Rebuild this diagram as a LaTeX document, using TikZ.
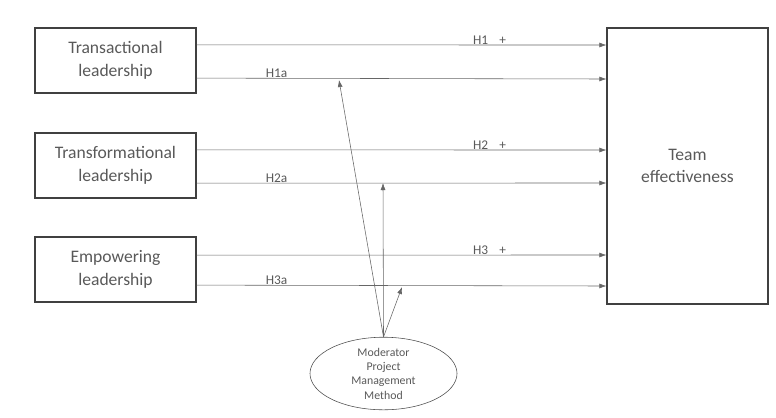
\documentclass[tikz,border=0pt]{standalone}
\usepackage{fontspec}
\setmainfont{Carlito}
\usetikzlibrary{arrows.meta,shapes.geometric}

\begin{document}
\begin{tikzpicture}[x=0.025cm, y=-0.025cm,
	every node/.style={text=black!65, align=center},
	lead/.style={rectangle, draw=black!75, thick, minimum width=4.025cm, minimum height=1.625cm, font=\fontsize{12.5}{16}\selectfont},
	hyp/.style={font=\fontsize{9.5}{10}\selectfont, inner sep=1pt},
	arr/.style={draw=black!60, -{Latex[length=5pt,width=3.5pt]}}]
				\useasboundingbox (0,0) rectangle (776,417);
				\node[lead] (trans) at (115.5,60.5){Transactional\\leadership};
				\node[lead] (transf) at (115.5,165.5){Transformational\\leadership};
				\node[lead] (emp) at (115.5,269.5){Empowering\\leadership};
				\node[lead, minimum height=6.9cm] (team) at (687.5,166){Team\\effectiveness};
				\node[ellipse, draw=black!70, minimum width=3.675cm, minimum height=1.725cm, inner sep=0pt, font=\fontsize{8.4}{10.2}\selectfont] (mod) at (383.5,373.5){Moderator\\Project\\Management\\Method};
				
				\coordinate (m1) at (339,80);
				\coordinate (m2) at (383,183);
				\coordinate (m3) at (402,287);
				
				\draw[arr] ([yshift=0.39cm]trans.east) -- (team.west |- 0,45) node[hyp, pos=0.715, above=-1pt]{H1\hspace{8pt}+};
				\draw[arr] ([yshift=-0.44cm]trans.east) -- (team.west |- 0,79) node[hyp, pos=0.195, above=-1pt]{H1a};
				\draw[arr] ([yshift=0.39cm]transf.east) -- (team.west |- 0,150) node[hyp, pos=0.715, above=-1pt]{H2\hspace{8pt}+};
				\draw[arr] ([yshift=-0.44cm]transf.east) -- (team.west |- 0,183) node[hyp, pos=0.195, above=-1pt]{H2a};
				\draw[arr] ([yshift=0.36cm]emp.east) -- (team.west |- 0,255) node[hyp, pos=0.715, above=-1pt]{H3\hspace{8pt}+};
				\draw[arr] ([yshift=-0.39cm]emp.east) -- (team.west |- 0,286) node[hyp, pos=0.195, above=-1pt]{H3a};
				
				\draw[arr] (mod.north) -- (m1);
				\draw[arr] (mod.north) -- (m2);
				\draw[arr] (mod.north) -- (m3);
				\end{tikzpicture}
\end{document}
